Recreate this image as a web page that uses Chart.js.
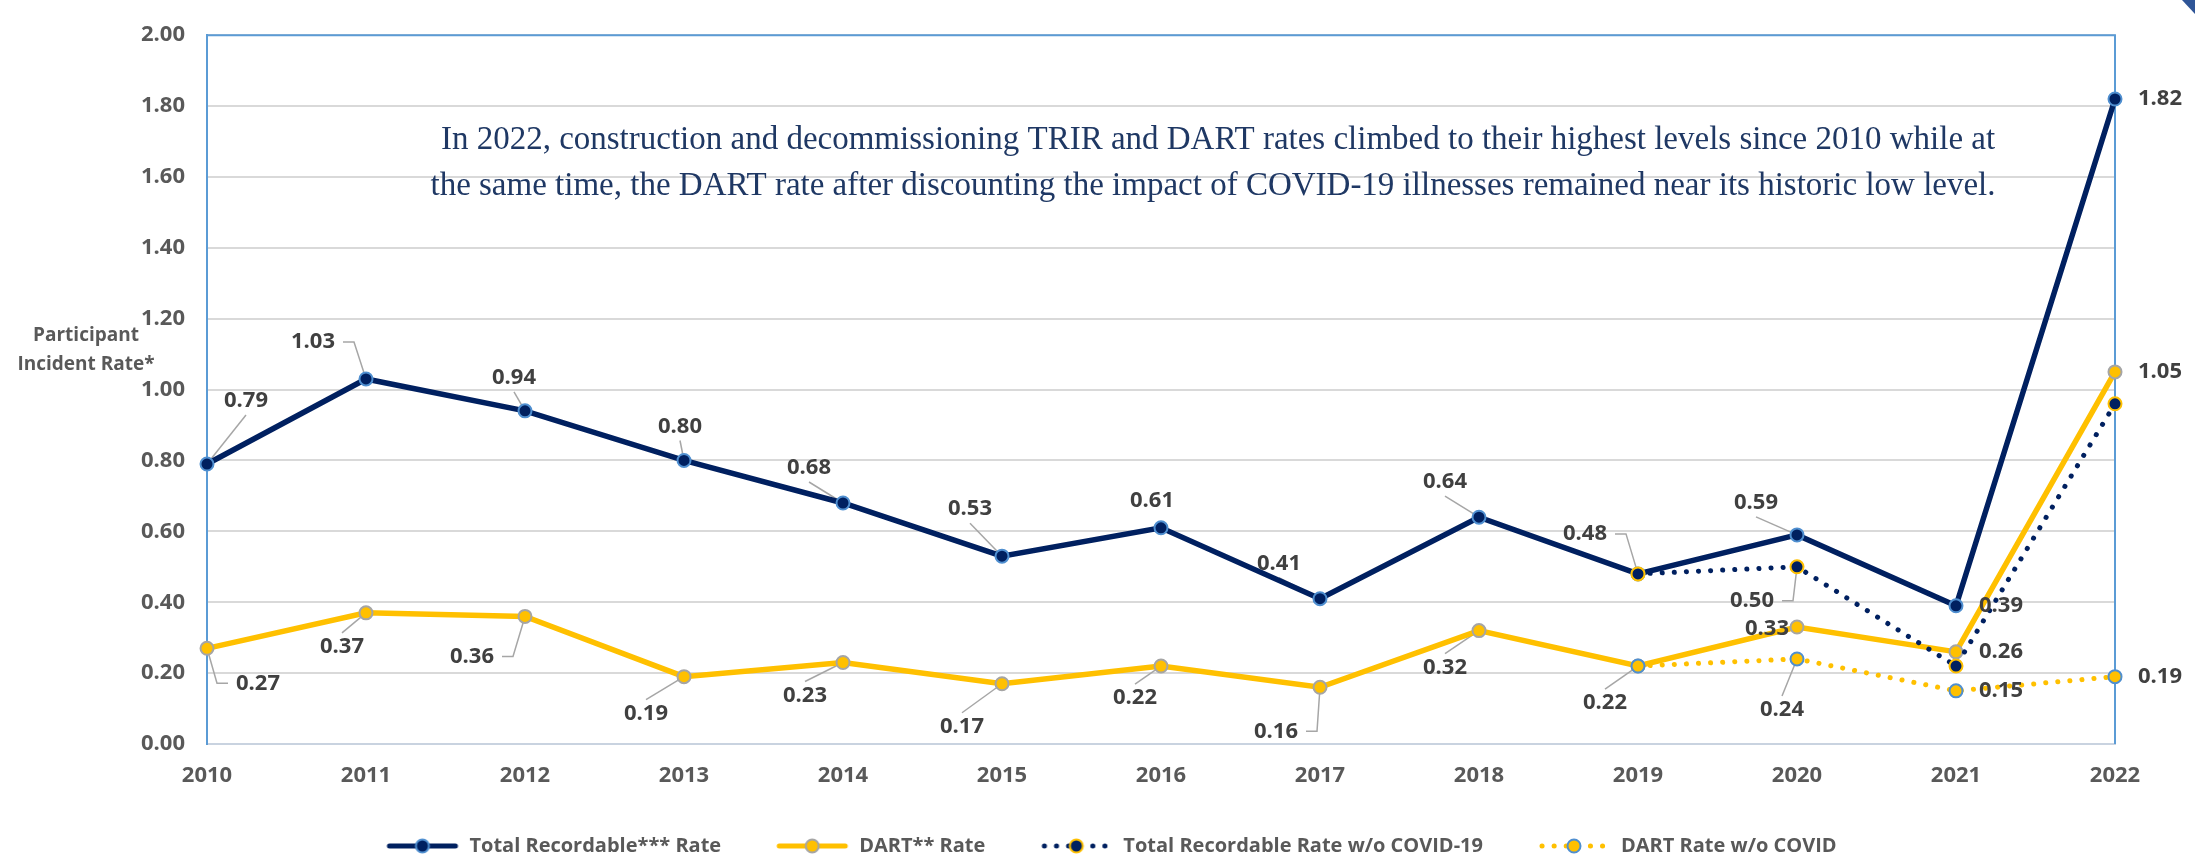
<!DOCTYPE html>
<html>
<head>
<meta charset="utf-8">
<script src="https://cdn.jsdelivr.net/npm/chart.js@4.4.0/dist/chart.umd.min.js"></script>
<style>
  html, body { margin: 0; padding: 0; background: #fff; }
  #wrap { position: relative; width: 2195px; height: 856px; }
  #corner { position: absolute; right: 0; top: 0; width: 13px; height: 14px; background: #2f5597; clip-path: polygon(0 0, 100% 0, 100% 100%); }
</style>
</head>
<body>
<div id="wrap">
  <canvas id="chart" width="2195" height="856"></canvas>
  <div id="corner"></div>
</div>
<script>
// Incident rates, 2010-2022

const years = ['2010', '2011', '2012', '2013', '2014', '2015', '2016', '2017', '2018', '2019', '2020', '2021', '2022'];

const totalRecordable = [0.79, 1.03, 0.94, 0.80, 0.68, 0.53, 0.61, 0.41, 0.64, 0.48, 0.59, 0.39, 1.82];
const dartRate = [0.27, 0.37, 0.36, 0.19, 0.23, 0.17, 0.22, 0.16, 0.32, 0.22, 0.33, 0.26, 1.05];
const totalNoCovid = [null, null, null, null, null, null, null, null, null, 0.48, 0.50, 0.22, 0.96];
const dartNoCovid = [null, null, null, null, null, null, null, null, null, 0.22, 0.24, 0.15, 0.19];

const seriesNames = ['Total Recordable*** Rate', 'DART** Rate', 'Total Recordable Rate w/o COVID-19', 'DART Rate w/o COVID'];

const yTitle = ['Participant', 'Incident Rate*'];
const note = [
    'In 2022, construction and decommissioning TRIR and DART rates climbed to their highest levels since 2010 while at',
    'the same time, the DART rate after discounting the impact of COVID-19 illnesses remained near its historic low level.'
];

const NAVY = '#002060';
const GOLD = '#ffc000';
const BLUE = '#4f8fd0';
const GREY = '#595959';

// where each value label sits, relative to its marker: [dx, dy, leader]
// leader: 'v' = straight line, 'h' = short horizontal stub then line, '' = none
const labelSpots = [
    [[39, -63, 'v'], [-53, -37, 'h'], [-11, -33, 'v'], [-4, -34, 'v'], [-34, -35, 'v'], [-32, -47, 'v'],
     [-9, -27, ''], [-41, -35, 'v'], [-34, -35, 'v'], [-53, -40, 'h'], [-41, -32, 'v'], [45, 0, ''], [45, 0, '']],
    [[51, 35, 'h'], [-24, 34, 'v'], [-53, 40, 'h'], [-38, 37, 'v'], [-38, 33, 'v'], [-40, 43, 'v'],
     [-26, 32, 'v'], [-44, 44, 'h'], [-34, 37, 'v'], [-33, 37, 'v'], [-30, 2, ''], [45, 0, ''], [45, 0, '']],
    [null, null, null, null, null, null, null, null, null, null, [-45, 34, 'h'], null, null],
    [null, null, null, null, null, null, null, null, null, null, [-15, 51, 'v'], [45, 0, ''], [45, 0, '']]
];

Chart.defaults.font.family = '"Open Sans", sans-serif';
Chart.defaults.font.weight = 'bold';
Chart.defaults.font.size = 22;
Chart.defaults.color = GREY;

// legend sample: line with a marker, blank margin on the left keeps items apart
function swatch(lineColor, fill, border, dotted) {
    const c = document.createElement('canvas');
    c.width = 87;
    c.height = 20;
    const g = c.getContext('2d');
    g.strokeStyle = lineColor;
    g.lineWidth = 5;
    g.lineCap = 'round';
    if (dotted) g.setLineDash([0.1, 12]);
    g.beginPath();
    g.moveTo(dotted ? 18 : 17, 10);
    g.lineTo(83, 10);
    g.stroke();
    g.setLineDash([]);
    g.beginPath();
    g.arc(50, 10, 6.5, 0, Math.PI * 2);
    g.fillStyle = fill;
    g.fill();
    g.lineWidth = 2;
    g.strokeStyle = border;
    g.stroke();
    return c;
}

const swatches = [
    swatch(NAVY, NAVY, BLUE, false),
    swatch(GOLD, GOLD, '#a5a5a5', false),
    swatch(NAVY, NAVY, GOLD, true),
    swatch(GOLD, GOLD, BLUE, true)
];

const frame = {
    id: 'frame',
    beforeDatasetsDraw(chart) {
        const {ctx, chartArea: a} = chart;
        ctx.save();
        ctx.strokeStyle = '#5b9bd5';
        ctx.lineWidth = 2;
        ctx.beginPath();
        ctx.moveTo(a.left, a.top);
        ctx.lineTo(a.right, a.top);
        ctx.lineTo(a.right, a.bottom);
        ctx.stroke();

        // leader lines, under the markers
        ctx.strokeStyle = '#a6a6a6';
        ctx.lineWidth = 1.5;
        labelSpots.forEach((spots, d) => {
            const meta = chart.getDatasetMeta(d);
            spots.forEach((s, i) => {
                if (!s || !s[2]) return;
                const p = meta.data[i];
                const lx = p.x + s[0], ly = p.y + s[1];
                ctx.beginPath();
                if (s[2] === 'v') {
                    const dir = Math.sign(p.y - ly);
                    ctx.moveTo(lx, ly + dir * 14);
                } else {
                    const dir = Math.sign(p.x - lx);
                    const x0 = lx + dir * 30;
                    ctx.moveTo(x0, ly);
                    ctx.lineTo(x0 + dir * 11, ly);
                }
                ctx.lineTo(p.x, p.y);
                ctx.stroke();
            });
        });
        ctx.restore();
    },
    afterDatasetsDraw(chart) {
        const {ctx} = chart;
        ctx.save();
        ctx.font = 'bold 22px "Open Sans"';
        ctx.fillStyle = '#404040';
        ctx.textAlign = 'center';
        ctx.textBaseline = 'middle';
        labelSpots.forEach((spots, d) => {
            const meta = chart.getDatasetMeta(d);
            const values = chart.data.datasets[d].data;
            spots.forEach((s, i) => {
                if (!s) return;
                const p = meta.data[i];
                ctx.fillText(values[i].toFixed(2), p.x + s[0], p.y + s[1]);
            });
        });
        ctx.restore();
    },
    afterDraw(chart) {
        const {ctx} = chart;
        ctx.save();
        ctx.textAlign = 'center';
        ctx.textBaseline = 'middle';
        ctx.fillStyle = GREY;
        ctx.font = 'bold 19px "Open Sans"';
        ctx.fillText(yTitle[0], 86, 336);
        ctx.fillText(yTitle[1], 86, 365);
        ctx.fillStyle = '#1f3864';
        ctx.font = '33px "Liberation Serif"';
        ctx.fillText(note[0], 1218, 140);
        ctx.fillText(note[1], 1213, 186);
        ctx.restore();
    }
};

const ctx = document.getElementById('chart').getContext('2d');

new Chart(ctx, {
    type: 'line',
    data: {
        labels: years,
        datasets: [
            {
                label: seriesNames[0], data: totalRecordable, order: 4,
                borderColor: NAVY, borderWidth: 5.5,
                pointRadius: 6.5, pointBorderWidth: 2, pointBackgroundColor: NAVY, pointBorderColor: BLUE
            },
            {
                label: seriesNames[1], data: dartRate, order: 3,
                borderColor: GOLD, borderWidth: 5.5,
                pointRadius: 6.5, pointBorderWidth: 2, pointBackgroundColor: GOLD, pointBorderColor: '#a5a5a5'
            },
            {
                label: seriesNames[2], data: totalNoCovid, order: 2,
                borderColor: NAVY, borderWidth: 5, borderDash: [0.1, 12], borderCapStyle: 'round',
                pointRadius: 6.5, pointBorderWidth: 2, pointBackgroundColor: NAVY, pointBorderColor: GOLD
            },
            {
                label: seriesNames[3], data: dartNoCovid, order: 1,
                borderColor: GOLD, borderWidth: 5, borderDash: [0.1, 12], borderCapStyle: 'round',
                pointRadius: 6.5, pointBorderWidth: 2, pointBackgroundColor: GOLD, pointBorderColor: BLUE
            }
        ]
    },
    options: {
        responsive: false,
        animation: false,
        layout: { padding: { left: 94, right: 80, top: 19, bottom: -10 } },
        scales: {
            x: {
                grid: { display: false, drawTicks: false },
                border: { color: '#c9d3e0', width: 2 },
                ticks: { padding: 19, color: GREY },
                afterFit: scale => { scale.height = 51; }
            },
            y: {
                min: 0,
                max: 2,
                grid: { color: '#d9d9d9', lineWidth: 2, drawTicks: false },
                border: { color: '#5b9bd5', width: 2 },
                ticks: { stepSize: 0.2, padding: 22, color: GREY, callback: v => v.toFixed(2) },
                afterFit: scale => { scale.width = 113; }
            }
        },
        plugins: {
            tooltip: { enabled: false },
            legend: {
                position: 'bottom',
                labels: {
                    usePointStyle: true,
                    pointStyleWidth: 87,
                    boxHeight: 20,
                    padding: 41,
                    color: GREY,
                    font: { size: 20, weight: 'bold' },
                    generateLabels: chart => chart.data.datasets.map((ds, i) => ({
                        text: ds.label,
                        pointStyle: swatches[i],
                        datasetIndex: i,
                        hidden: false,
                        fontColor: GREY,
                        lineWidth: 0,
                        strokeStyle: 'transparent',
                        fillStyle: 'transparent'
                    }))
                }
            }
        }
    },
    plugins: [frame]
});
</script>
</body>
</html>
